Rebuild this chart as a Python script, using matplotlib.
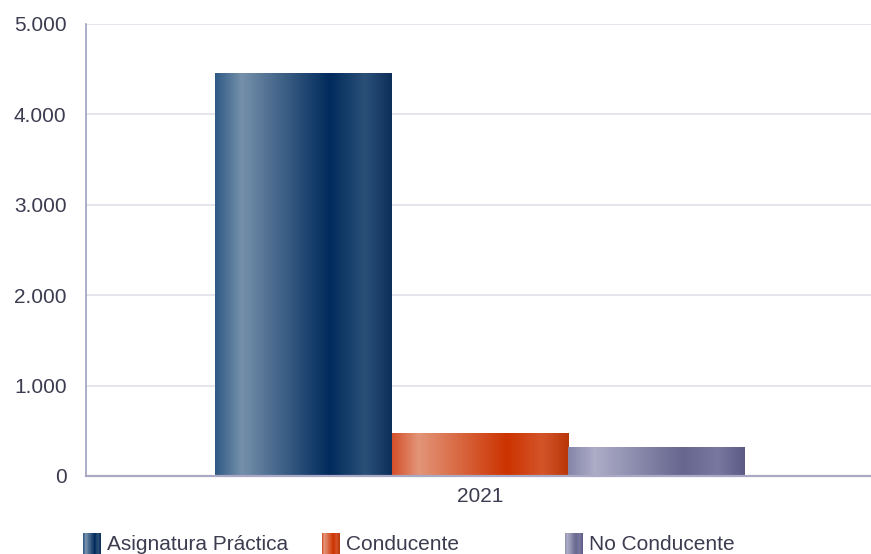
import numpy as np
import matplotlib
matplotlib.use("Agg")
import matplotlib.pyplot as plt
from matplotlib.colors import LinearSegmentedColormap
from matplotlib.patches import Rectangle
from matplotlib.legend_handler import HandlerBase

plt.rcParams["font.family"] = ["Liberation Sans", "DejaVu Sans"]

years = ["2021"]
series = ["Asignatura Práctica", "Conducente", "No Conducente"]
values = [4458, 476, 321]

# gradient stops per series (left -> right across the bar)
stops = [0.0, 0.15, 0.65, 0.85, 1.0]
palettes = [
    ["#2f5a85", "#7590ab", "#002b5c", "#2b5078", "#0c2f5a"],
    ["#d4502a", "#e39579", "#cc3300", "#d4542a", "#b83608"],
    ["#8585a8", "#adadc8", "#66668f", "#7878a0", "#5a5a85"],
]
cmaps = [LinearSegmentedColormap.from_list(f"g{i}", list(zip(stops, p)))
         for i, p in enumerate(palettes)]

TEXT = "#3c3c50"
FS = 15

fig = plt.figure(figsize=(8.71, 5.54), dpi=100)
ax = fig.add_axes([0.0987, 0.1408, 0.9013, 0.8159])

grad = np.linspace(0, 1, 256).reshape(1, -1)
x0 = np.arange(len(years))
width = 1.0
for i, name in enumerate(series):
    bars = ax.bar(x0 + (i - 1) * width, [values[i]], width=width,
                  facecolor="none", edgecolor="none", zorder=3)
    for b in bars:
        im = ax.imshow(grad, cmap=cmaps[i], aspect="auto", zorder=3,
                       extent=(b.get_x(), b.get_x() + b.get_width(), 0, b.get_height()))
        im.set_clip_path(b)

ax.set_xlim(-2.23, 2.213)
ax.set_ylim(0, 5000)
ax.set_yticks(range(0, 5001, 1000))
ax.set_yticklabels([f"{t:,}".replace(",", ".") for t in range(0, 5001, 1000)])
ax.set_xticks(x0)
ax.set_xticklabels(years)
ax.tick_params(length=0, labelsize=FS, labelcolor=TEXT)
ax.tick_params(axis="y", pad=14)
ax.tick_params(axis="x", pad=8)
ax.grid(axis="y", color="#e0e0ea", linewidth=1.2, zorder=0)
ax.set_axisbelow(True)
for s in ["top", "right"]:
    ax.spines[s].set_visible(False)
ax.spines["left"].set_color("#a0a0c0")
ax.spines["left"].set_linewidth(1.2)
ax.spines["bottom"].set_color("#a9a9c6")
ax.spines["bottom"].set_linewidth(1.6)
ax.spines["bottom"].set_zorder(4)


class GradHandler(HandlerBase):
    def __init__(self, cmap):
        super().__init__()
        self.cmap = cmap

    def create_artists(self, legend, orig, xd, yd, w, h, fs, trans):
        n = 24
        arts = []
        y0 = yd - 5.8
        hh = h + 2.9
        for k in range(n):
            r = Rectangle((xd + w * k / n, y0), w / n + 0.3, hh,
                          facecolor=self.cmap((k + 0.5) / n), edgecolor="none",
                          transform=trans)
            arts.append(r)
        return arts


leg_x = [0.0788, 0.3527, 0.6315]
for i, name in enumerate(series):
    h = Rectangle((0, 0), 1, 1)
    fig.legend([h], [name], loc="lower left", bbox_to_anchor=(leg_x[i], -0.0256),
               frameon=False, fontsize=FS, labelcolor=TEXT,
               handler_map={h: GradHandler(cmaps[i])},
               handlelength=0.85, handleheight=1.0, handletextpad=0.3,
               borderpad=0.2)

fig.savefig("out.png", dpi=100)
